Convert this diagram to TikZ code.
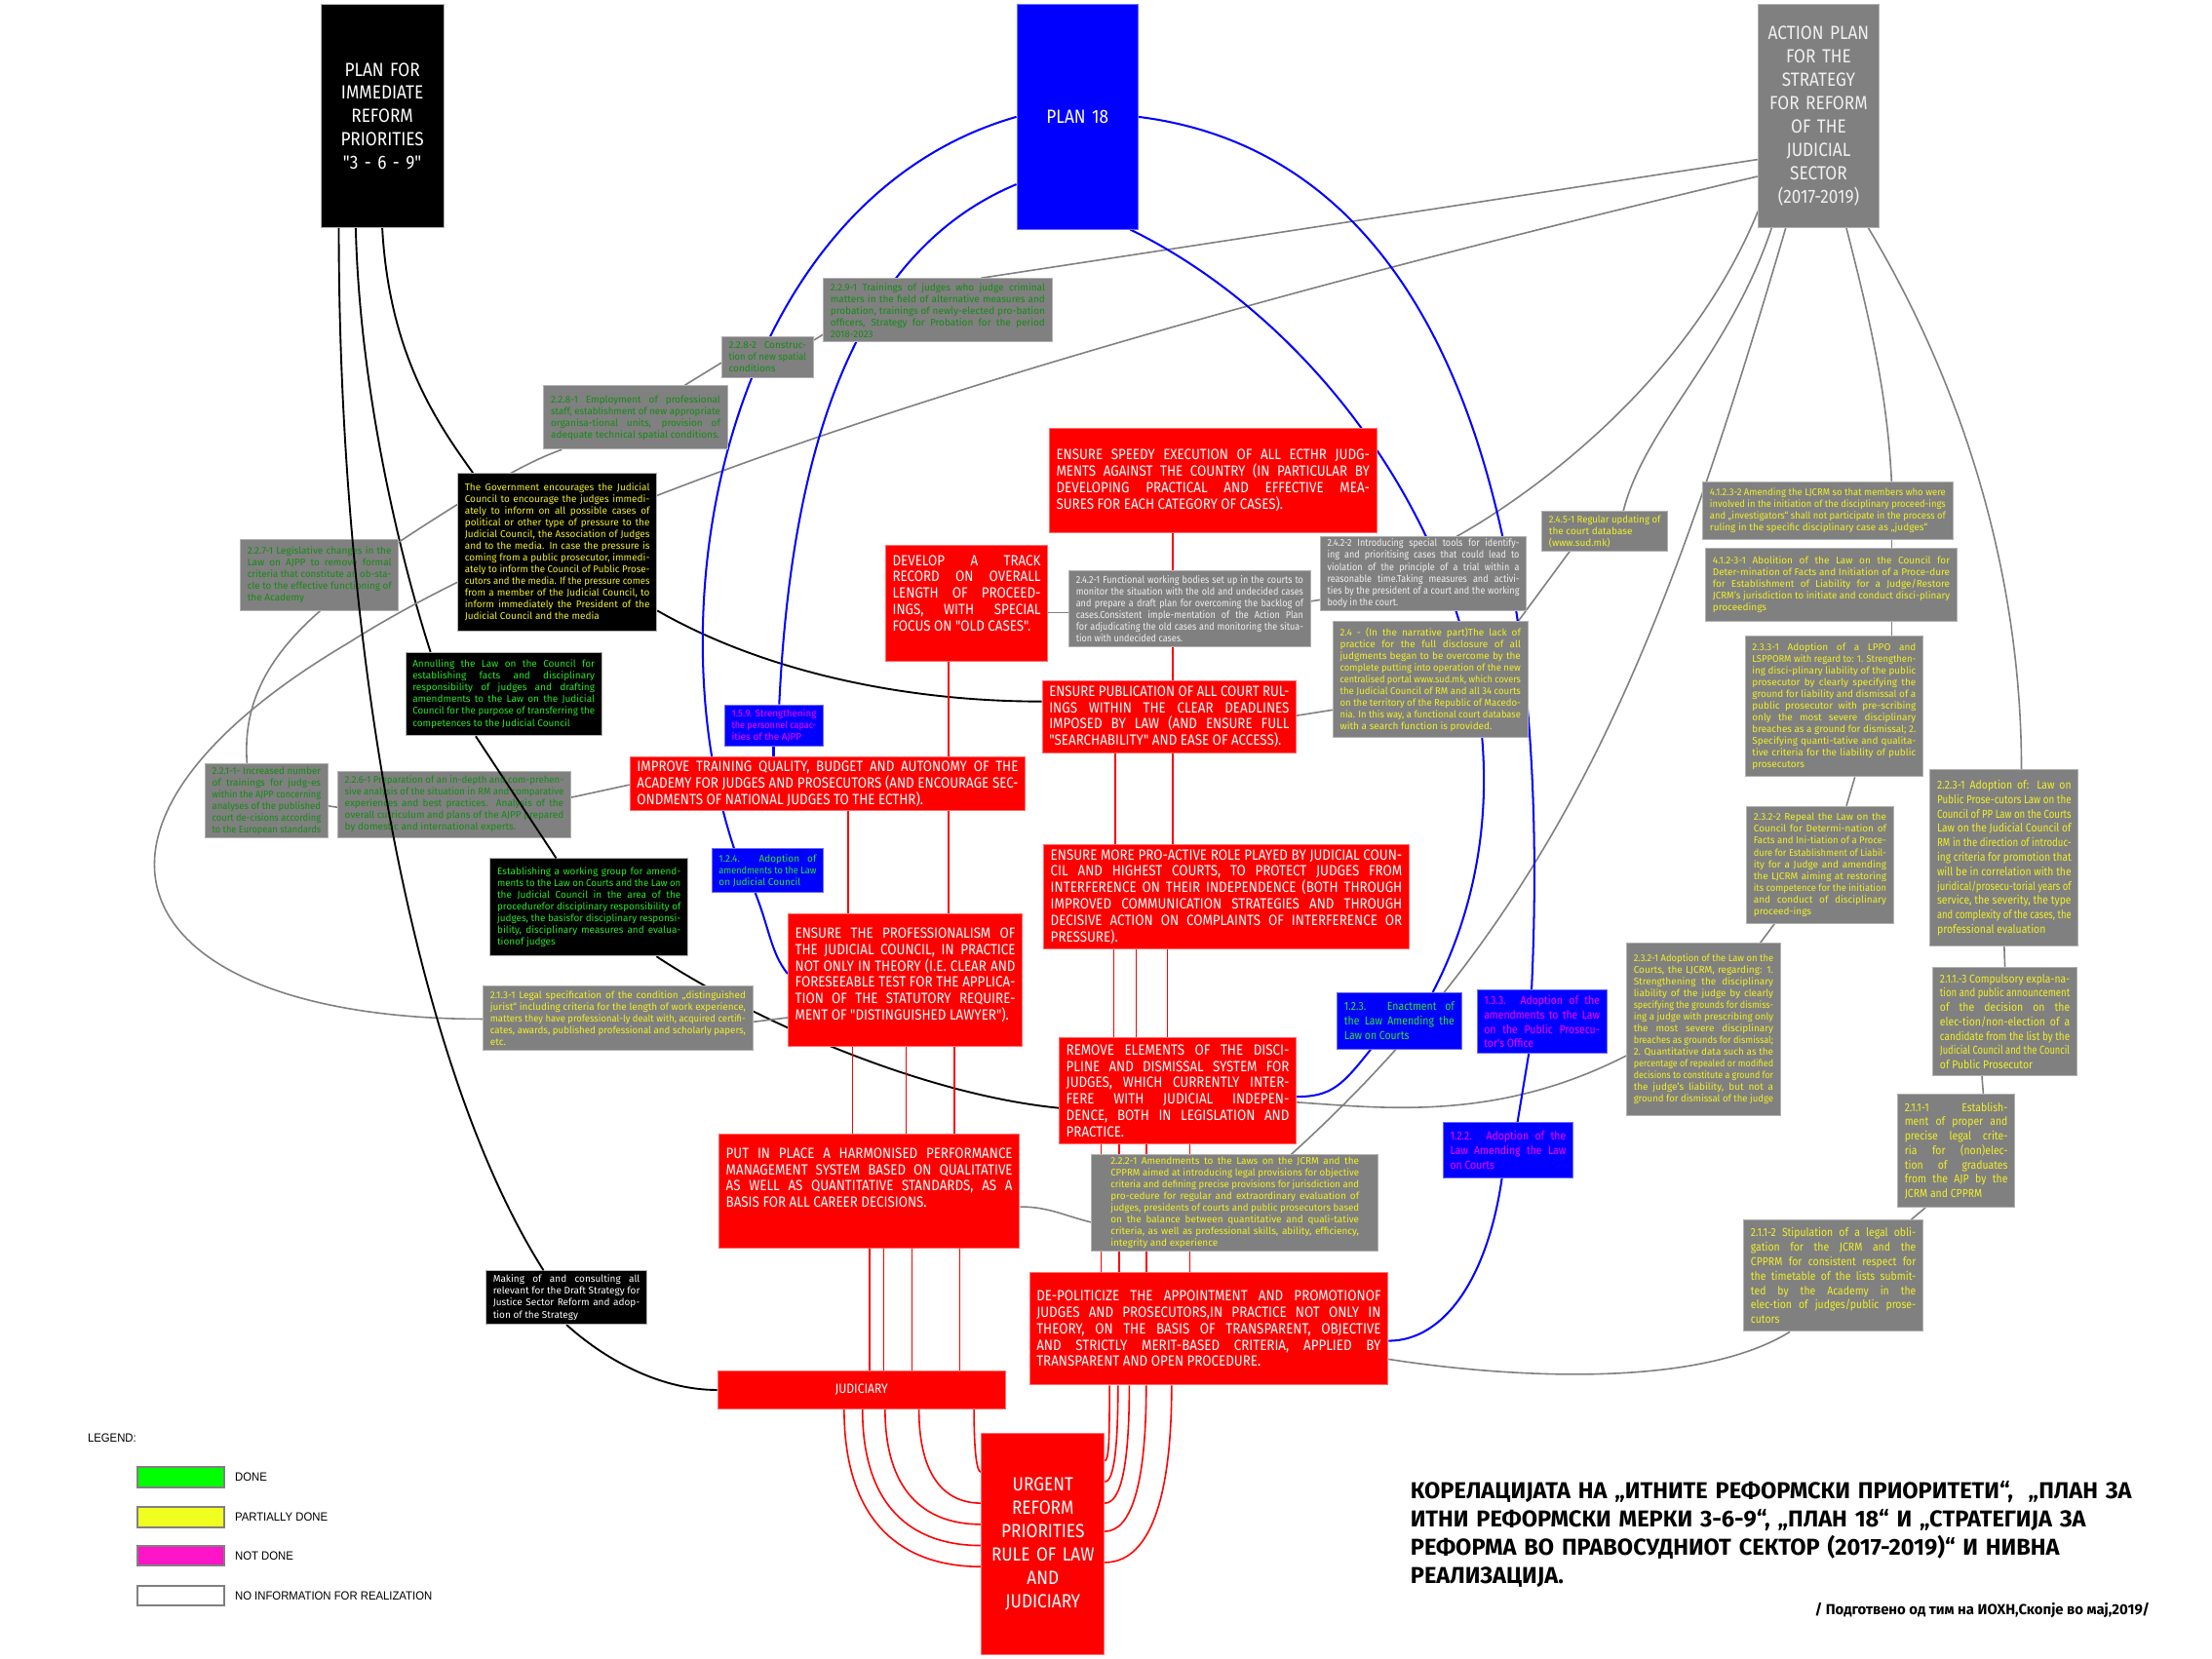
\documentclass[tikz,border=0pt]{standalone}
\usepackage{fontspec}
\usepackage{graphicx}
\setmainfont{Fira Sans}
\newfontfamily\condfont{Fira Sans}[FakeStretch=0.88]
\newfontfamily\legfont{Liberation Sans}[FakeStretch=0.92]
\usetikzlibrary{positioning,calc}
\pgfdeclarelayer{background}
\pgfsetlayers{background,main}

\definecolor{boxgray}{RGB}{128,128,128}
\definecolor{boxedge}{RGB}{178,178,178}
\definecolor{txtgreen}{RGB}{22,138,22}
\definecolor{litegreen}{RGB}{40,230,40}
\definecolor{txtyellow}{RGB}{240,240,40}
\definecolor{txtmag}{RGB}{255,0,255}
\definecolor{txtwhite}{RGB}{240,240,240}
\definecolor{planblue}{RGB}{0,0,255}
\definecolor{blueedge}{RGB}{110,110,255}
\definecolor{prred}{RGB}{255,0,0}
\definecolor{rededge}{RGB}{255,110,110}
\definecolor{linegray}{RGB}{128,128,128}
\definecolor{swgreen}{RGB}{0,255,0}
\definecolor{swyellow}{RGB}{240,255,30}
\definecolor{swmag}{RGB}{255,20,200}

\newcommand\smallfnt{\fontsize{6.9}{8.3}\selectfont}
\newcommand\smallcond{\condfont\fontsize{7.1}{8.4}\selectfont}
\newcommand\midfnt{\condfont\fontsize{8.2}{10.2}\selectfont}
\newcommand\redfnt{\condfont\fontsize{10.5}{11.6}\selectfont}
\newcommand\headfnt{\condfont\fontsize{13.5}{16.5}\selectfont}

% one justified line, one last line
\newsavebox\lnbox
\newcommand\jl[1]{\sbox\lnbox{#1}\noindent\ifdim\wd\lnbox>\linewidth\resizebox{\linewidth}{\height}{#1}\else\hbox to\linewidth{#1}\fi\par}
\newcommand\lastl[1]{\sbox\lnbox{#1}\noindent\ifdim\wd\lnbox>\linewidth\resizebox{\linewidth}{\height}{#1}\else\mbox{#1}\fi\par}
\newcommand\topbox[2]{\vbox to #1{#2\vfil}}

\tikzset{
  box/.style={anchor=north west, inner sep=0pt, align=justify, line width=0.6pt},
  sz/.code 2 args={\pgfmathsetmacro\bxw{#1-10}\edef\bxtmp{\noexpand\tikzset{minimum width=#1pt,minimum height=#2pt,text width=\bxw pt}}\bxtmp},
  gbox/.style={box, fill=boxgray, draw=boxedge, font=\smallfnt},
  kbox/.style={box, fill=black, draw=boxedge, font=\smallfnt},
  bbox/.style={box, fill=planblue, draw=blueedge, font=\smallfnt},
  rbox/.style={box, fill=prred, draw=rededge, text=white, font=\redfnt},
  hbox/.style={box, align=center, text=white, font=\headfnt},
  swatch/.style={draw=gray, line width=1.3pt, minimum width=61pt, minimum height=14pt, inner sep=0pt},
  leg/.style={font=\legfont\fontsize{8.5}{10}\selectfont, inner sep=0pt},
  blk/.style={line width=1.3pt, black},
  gry/.style={line width=1.1pt, linegray},
  blu/.style={line width=1.4pt, planblue},
  rd/.style={line width=1.1pt, prred},
}

\begin{document}
\begin{tikzpicture}[x=1pt,y=-1pt]
\useasboundingbox (0,0) rectangle (1567,1175);

% the three plans
\node[hbox, fill=black, draw=boxedge, sz={87}{158}] (p369) at (227,3) {PLAN FOR\\IMMEDIATE\\REFORM\\PRIORITIES\\"3 - 6 - 9"};
\node[hbox, fill=planblue, draw=blueedge, sz={86}{159}] (p18) at (720,3) {PLAN 18};
\node[hbox, fill=boxgray, draw=boxedge, text=txtwhite, sz={86}{158}] (ap) at (1245,3) {ACTION PLAN\\FOR THE\\STRATEGY\\FOR REFORM\\OF THE\\JUDICIAL\\SECTOR\\(2017-2019)};

% left side measures
\node[gbox, text=txtgreen, sz={162}{45}] (a2291) at (583,197) {\jl{2.2.9-1 Trainings of judges who judge criminal}\jl{matters in the field of alternative measures and}\jl{probation, trainings of newly-elected pro-bation}\jl{officers, Strategy for Probation for the period}\lastl{2018-2023}};
\node[gbox, text=txtgreen, sz={65}{29}] (a2282) at (511,238) {\jl{2.2.8-2 Construc-}\jl{tion of new spatial}\lastl{conditions}};
\node[gbox, text=txtgreen, sz={130}{45}] (a2281) at (385,273) {\jl{2.2.8-1 Employment of professional}\jl{staff, establishment of new appropriate}\jl{organisa-tional units, provision of}\lastl{adequate technical spatial conditions.}};
\node[kbox, text=txtyellow, sz={141}{112}] (gov) at (324,335) {\jl{The Government encourages the Judicial}\jl{Council to encourage the judges immedi-}\jl{ately to inform on all possible cases of}\jl{political or other type of pressure to the}\jl{Judicial Council, the Association of Judges}\jl{and to the media. In case the pressure is}\jl{coming from a public prosecutor, immedi-}\jl{ately to inform the Council of Public Prose-}\jl{cutors and the media. If the pressure comes}\jl{from a member of the Judicial Council, to}\jl{inform immediately the President of the}\lastl{Judicial Council and the media}};
\node[gbox, text=txtgreen, sz={112}{50}] (a2271) at (170,382) {\jl{2.2.7-1 Legislative changes in the}\jl{Law on AJPP to remove formal}\jl{criteria that constitute an ob-sta-}\jl{cle to the effective functioning of}\lastl{the Academy}};
\node[kbox, text=litegreen, sz={139}{59}] (annul) at (287,462) {\jl{Annulling the Law on the Council for}\jl{establishing facts and disciplinary}\jl{responsibility of judges and drafting}\jl{amendments to the Law on the Judicial}\jl{Council for the purpose of transferring the}\lastl{competences to the Judicial Council}};
\node[gbox, text=txtgreen, sz={87}{52}] (a2211) at (145,541) {\jl{2.2.1-1- Increased number}\jl{of trainings for judg-es}\jl{within the AJPP concerning}\jl{analyses of the published}\jl{court de-cisions according}\lastl{to the European standards}};
\node[gbox, text=txtgreen, sz={165}{47}] (a2261) at (239,546) {\jl{2.2.6-1 Preparation of an in-depth and com-prehen-}\jl{sive analysis of the situation in RM and comparative}\jl{experiences and best practices. Analysis of the}\jl{overall curriculum and plans of the AJPP prepared}\lastl{by domestic and international experts.}};
\node[kbox, text=litegreen, sz={140}{69}] (estab) at (347,608) {\jl{Establishing a working group for amend-}\jl{ments to the Law on Courts and the Law on}\jl{the Judicial Council in the area of the}\jl{procedurefor disciplinary responsibility of}\jl{judges, the basisfor disciplinary responsi-}\jl{bility, disciplinary measures and evalua-}\lastl{tionof judges}};
\node[gbox, text=txtyellow, sz={191}{46}] (a2131) at (342,698) {\jl{2.1.3-1 Legal specification of the condition „distinguished}\jl{jurist“ including criteria for the length of work experience,}\jl{matters they have professional-ly dealt with, acquired certifi-}\jl{cates, awards, published professional and scholarly papers,}\lastl{etc.}};
\node[kbox, text=white, sz={114}{38}] (making) at (344,900) {\jl{Making of and consulting all}\jl{relevant for the Draft Strategy for}\jl{Justice Sector Reform and adop-}\lastl{tion of the Strategy}};
\node[bbox, text=txtmag, sz={70}{29}] (n159) at (513,499) {\jl{1.5.9. Strengthening}\jl{the personnel capac-}\lastl{ities of the AJPP}};
\node[bbox, text=litegreen, sz={79}{31}] (n124) at (504,601) {\jl{1.2.4. Adoption of}\jl{amendments to the Law}\lastl{on Judicial Council}};

% priorities
\node[rbox, sz={280}{38}] (improve) at (446,536) {\jl{IMPROVE TRAINING QUALITY, BUDGET AND AUTONOMY OF THE}\jl{ACADEMY FOR JUDGES AND PROSECUTORS (AND ENCOURAGE SEC-}\lastl{ONDMENTS OF NATIONAL JUDGES TO THE ECTHR).}};
\node[rbox, sz={166}{94}] (prof) at (558,647) {\topbox{74pt}{\jl{ENSURE THE PROFESSIONALISM OF}\jl{THE JUDICIAL COUNCIL, IN PRACTICE}\jl{NOT ONLY IN THEORY (I.E. CLEAR AND}\jl{FORESEEABLE TEST FOR THE APPLICA-}\jl{TION OF THE STATUTORY REQUIRE-}\lastl{MENT OF "DISTINGUISHED LAWYER").}}};
\node[rbox, sz={213}{81}] (put) at (509,803) {\topbox{61pt}{\jl{PUT IN PLACE A HARMONISED PERFORMANCE}\jl{MANAGEMENT SYSTEM BASED ON QUALITATIVE}\jl{AS WELL AS QUANTITATIVE STANDARDS, AS A}\lastl{BASIS FOR ALL CAREER DECISIONS.}}};
\node[hbox, fill=prred, draw=rededge, font=\condfont\fontsize{9.5}{11}\selectfont, sz={204}{27}] (jud) at (508,971) {JUDICIARY};
\node[hbox, fill=prred, draw=rededge, sz={87}{157}] (urgent) at (695,1015) {URGENT\\REFORM\\PRIORITIES\\RULE OF LAW\\AND\\JUDICIARY};
\node[rbox, sz={254}{80}] (depol) at (729,901) {\jl{DE-POLITICIZE THE APPOINTMENT AND PROMOTIONOF}\jl{JUDGES AND PROSECUTORS,IN PRACTICE NOT ONLY IN}\jl{THEORY, ON THE BASIS OF TRANSPARENT, OBJECTIVE}\jl{AND STRICTLY MERIT-BASED CRITERIA, APPLIED BY}\lastl{TRANSPARENT AND OPEN PROCEDURE.}};
\node[gbox, text=txtyellow, sz={203}{68}, text width=176pt] (a2221) at (773,818) {\jl{2.2.2-1 Amendments to the Laws on the JCRM and the}\jl{CPPRM aimed at introducing legal provisions for objective}\jl{criteria and defining precise provisions for jurisdiction and}\jl{pro-cedure for regular and extraordinary evaluation of}\jl{judges, presidents of courts and public prosecutors based}\jl{on the balance between quantitative and quali-tative}\jl{criteria, as well as professional skills, ability, efficiency,}\lastl{integrity and experience}};
\node[rbox, sz={168}{75}] (remove) at (750,735) {\jl{REMOVE ELEMENTS OF THE DISCI-}\jl{PLINE AND DISMISSAL SYSTEM FOR}\jl{JUDGES, WHICH CURRENTLY INTER-}\jl{FERE WITH JUDICIAL INDEPEN-}\jl{DENCE, BOTH IN LEGISLATION AND}\lastl{PRACTICE.}};
\node[rbox, sz={259}{74}] (proact) at (739,598) {\jl{ENSURE MORE PRO-ACTIVE ROLE PLAYED BY JUDICIAL COUN-}\jl{CIL AND HIGHEST COURTS, TO PROTECT JUDGES FROM}\jl{INTERFERENCE ON THEIR INDEPENDENCE (BOTH THROUGH}\jl{IMPROVED COMMUNICATION STRATEGIES AND THROUGH}\jl{DECISIVE ACTION ON COMPLAINTS OF INTERFERENCE OR}\lastl{PRESSURE).}};
\node[rbox, sz={180}{51}] (pub) at (738,482) {\jl{ENSURE PUBLICATION OF ALL COURT RUL-}\jl{INGS WITHIN THE CLEAR DEADLINES}\jl{IMPOSED BY LAW (AND ENSURE FULL}\lastl{"SEARCHABILITY" AND EASE OF ACCESS).}};
\node[rbox, sz={115}{82}] (develop) at (627,386) {\topbox{68pt}{\jl{DEVELOP A TRACK}\jl{RECORD ON OVERALL}\jl{LENGTH OF PROCEED-}\jl{INGS, WITH SPECIAL}\lastl{FOCUS ON "OLD CASES".}}};
\node[rbox, sz={232}{74}] (speedy) at (743,303) {\jl{ENSURE SPEEDY EXECUTION OF ALL ECTHR JUDG-}\jl{MENTS AGAINST THE COUNTRY (IN PARTICULAR BY}\jl{DEVELOPING PRACTICAL AND EFFECTIVE MEA-}\lastl{SURES FOR EACH CATEGORY OF CASES).}};

% middle measures
\node[gbox, text=txtwhite, font=\smallcond, sz={171}{54}] (a2421) at (757,404) {\jl{2.4.2-1 Functional working bodies set up in the courts to}\jl{monitor the situation with the old and undecided cases}\jl{and prepare a draft plan for overcoming the backlog of}\jl{cases.Consistent imple-mentation of the Action Plan}\jl{for adjudicating the old cases and monitoring the situa-}\lastl{tion with undecided cases.}};
\node[gbox, text=txtwhite, font=\smallcond, sz={146}{52}] (a2422) at (935,380) {\jl{2.4.2-2 Introducing special tools for identify-}\jl{ing and prioritising cases that could lead to}\jl{violation of the principle of a trial within a}\jl{reasonable time.Taking measures and activi-}\jl{ties by the president of a court and the working}\lastl{body in the court.}};
\node[gbox, text=txtyellow, sz={89}{28}] (a2451) at (1092,362) {\jl{2.4.5-1 Regular updating of}\lastl{the court database}\lastl{(www.sud.mk)}};
\node[gbox, text=txtyellow, sz={138}{82}] (a24) at (944,440) {\jl{2.4 - (In the narrative part)The lack of}\jl{practice for the full disclosure of all}\jl{judgments began to be overcome by the}\jl{complete putting into operation of the new}\jl{centralised portal www.sud.mk, which covers}\jl{the Judicial Council of RM and all 34 courts}\jl{on the territory of the Republic of Macedo-}\jl{nia. In this way, a functional court database}\lastl{with a search function is provided.}};
\node[bbox, text=litegreen, font=\midfnt, sz={88}{40}] (n123) at (947,703) {\jl{1.2.3. Enactment of}\jl{the Law Amending the}\lastl{Law on Courts}};
\node[bbox, text=txtmag, font=\midfnt, sz={92}{45}] (n133) at (1046,701) {\jl{1.3.3. Adoption of the}\jl{amendments to the Law}\jl{on the Public Prosecu-}\lastl{tor's Office}};
\node[bbox, text=txtmag, font=\midfnt, sz={92}{39}] (n122) at (1022,795) {\jl{1.2.2. Adoption of the}\jl{Law Amending the Law}\lastl{on Courts}};

% right side measures
\node[gbox, text=txtyellow, sz={177}{41}] (a41232) at (1206,341) {\jl{4.1.2.3-2 Amending the LJCRM so that members who were}\jl{involved in the initiation of the disciplinary proceed-ings}\jl{and „investigators“ shall not participate in the process of}\lastl{ruling in the specific disciplinary case as „judges“}};
\node[gbox, text=txtyellow, sz={178}{52}] (a41231) at (1208,388) {\jl{4.1.2-3-1 Abolition of the Law on the Council for}\jl{Deter-mination of Facts and Initiation of a Proce-dure}\jl{for Establishment of Liability for a Judge/Restore}\jl{JCRM's jurisdiction to initiate and conduct disci-plinary}\lastl{proceedings}};
\node[gbox, text=txtyellow, sz={126}{100}] (a2331) at (1236,450) {\jl{2.3.3-1 Adoption of a LPPO and}\jl{LSPPORM with regard to: 1. Strengthen-}\jl{ing disci-plinary liability of the public}\jl{prosecutor by clearly specifying the}\jl{ground for liability and dismissal of a}\jl{public prosecutor with pre-scribing}\jl{only the most severe disciplinary}\jl{breaches as a ground for dismissal; 2.}\jl{Specifying quanti-tative and qualita-}\jl{tive criteria for the liability of public}\lastl{prosecutors}};
\node[gbox, text=txtyellow, sz={104}{83}] (a2322) at (1237,571) {\jl{2.3.2-2 Repeal the Law on the}\jl{Council for Determi-nation of}\jl{Facts and Ini-tiation of a Proce-}\jl{dure for Establishment of Liabil-}\jl{ity for a Judge and amending}\jl{the LJCRM aiming at restoring}\jl{its competence for the initiation}\jl{and conduct of disciplinary}\lastl{proceed-ings}};
\node[gbox, text=txtyellow, sz={109}{122}] (a2321) at (1152,668) {\jl{2.3.2-1 Adoption of the Law on the}\jl{Courts, the LJCRM, regarding: 1.}\jl{Strengthening the disciplinary}\jl{liability of the judge by clearly}\jl{specifying the grounds for dismiss-}\jl{ing a judge with prescribing only}\jl{the most severe disciplinary}\jl{breaches as grounds for dismissal;}\jl{2. Quantitative data such as the}\jl{percentage of repealed or modified}\jl{decisions to constitute a ground for}\jl{the judge's liability, but not a}\lastl{ground for dismissal of the judge}};
\node[gbox, text=txtyellow, font=\midfnt, sz={105}{125}] (a2231) at (1367,545) {\jl{2.2.3-1 Adoption of: Law on}\jl{Public Prose-cutors Law on the}\jl{Council of PP Law on the Courts}\jl{Law on the Judicial Council of}\jl{RM in the direction of introduc-}\jl{ing criteria for promotion that}\jl{will be in correlation with the}\jl{juridical/prosecu-torial years of}\jl{service, the severity, the type}\jl{and complexity of the cases, the}\lastl{professional evaluation}};
\node[gbox, text=txtyellow, font=\midfnt, sz={102}{77}] (a2113) at (1369,685) {\jl{2.1.1.-3 Compulsory expla-na-}\jl{tion and public announcement}\jl{of the decision on the}\jl{elec-tion/non-election of a}\jl{candidate from the list by the}\jl{Judicial Council and the Council}\lastl{of Public Prosecutor}};
\node[gbox, text=txtyellow, font=\midfnt, sz={83}{80}] (a2111) at (1344,775) {\jl{2.1.1-1 Establish-}\jl{ment of proper and}\jl{precise legal crite-}\jl{ria for (non)elec-}\jl{tion of graduates}\jl{from the AJP by the}\lastl{JCRM and CPPRM}};
\node[gbox, text=txtyellow, font=\midfnt, sz={127}{79}] (a2112) at (1235,864) {\jl{2.1.1-2 Stipulation of a legal obli-}\jl{gation for the JCRM and the}\jl{CPPRM for consistent respect for}\jl{the timetable of the lists submit-}\jl{ted by the Academy in the}\jl{elec-tion of judges/public prose-}\lastl{cutors}};

% legend
\node[leg, anchor=west] (legend) at (62,1019) {LEGEND:};
\node[swatch, fill=swgreen, anchor=north west] (swdone) at (97,1039) {};
\node[swatch, fill=swyellow, below=13pt of swdone] (swpart) {};
\node[swatch, fill=swmag, below=12pt of swpart] (swnot) {};
\node[swatch, fill=white, below=13pt of swnot] (swnone) {};
\node[leg, right=7pt of swdone] (lbldone) {DONE};
\node[leg, right=7pt of swpart] (lblpart) {PARTIALLY DONE};
\node[leg, right=7pt of swnot] (lblnot) {NOT DONE};
\node[leg, right=7pt of swnone] (lblnone) {NO INFORMATION FOR REALIZATION};

% title
\node[anchor=north west, inner sep=0pt, text width=545pt, align=left, font=\bfseries\fontsize{16.3}{20}\selectfont] (title) at (999,1049) {КОРЕЛАЦИЈАТА НА „ИТНИТЕ РЕФОРМСКИ ПРИОРИТЕТИ“,\ \ „ПЛАН ЗА\\ИТНИ РЕФОРМСКИ МЕРКИ 3-6-9“, „ПЛАН 18“ И „СТРАТЕГИЈА ЗА\\РЕФОРМА ВО ПРАВОСУДНИОТ СЕКТОР (2017-2019)“ И НИВНА\\РЕАЛИЗАЦИЈА.};
\node[anchor=base east, inner sep=0pt, font=\bfseries\fontsize{10.3}{12}\selectfont] (credit) at (1523,1144) {/ Подготвено од тим на ИОХН,Скопје во мај,2019/};

\begin{pgfonlayer}{background}
\fill[white] (0,0) rectangle (1567,1175);
% black links
\draw[blk] (p369.south) .. controls +(5,90) and +(-25,-35) .. ($(gov.north west)+(11,0)$);
\draw[blk] ($(p369.south west)+(25,0)$) .. controls +(3,119) and +(-20,-62) .. ($(annul.north west)+(18,0)$);
\draw[blk] (making.south) .. controls +(30,27) and +(-38,0) .. (jud.west);
\draw[blk] ($(estab.south west)+(118,0)$) .. controls +(65,43) and +(-100,-10) .. ($(remove.north west)+(0,50)$);
\draw[blk] ($(gov.south east)+(0,-15)$) .. controls +(75,43) and +(-98,0) .. ($(pub.north west)+(0,15)$);
% gray links
\draw[gry] ($(ap.north west)+(0,110)$) -- ($(a2291.north west)+(112,0)$);
\draw[gry] ($(ap.north west)+(0,122)$) .. controls (800,230) and (420,345) .. (246,456) .. controls (20,590) and (90,722) .. ($(a2131.north west)+(0,24)$);
\draw[gry] ($(a2281.south west)+(13,0)$) .. controls +(-30,10) and +(35,-23) .. ($(a2271.north east)+(0,2)$);
\draw[gry] ($(a2281.north west)+(100,0)$) -- ($(a2282.north west)+(0,19)$);
\draw[gry] ($(a2282.north east)+(0,3)$) -- ($(a2291.north west)+(0,40)$);
\draw[gry] ($(a2271.south west)+(57,0)$) .. controls +(-40,35) and +(-3,-40) .. ($(a2211.north west)+(30,0)$);
\draw[gry] ($(a2211.north east)+(0,30)$) -- ($(a2261.north west)+(0,26)$);
\draw[gry] ($(a2261.north east)+(0,19)$) -- ($(improve.north west)+(0,20)$);
\draw[gry] ($(a2131.north east)+(0,26)$) -- ($(prof.north west)+(0,74)$);
\draw[gry] ($(ap.north west)+(3,140)$) .. controls +(-50,130) and +(45,-25) .. ($(a2422.north west)+(97,0)$);
\draw[gry] ($(ap.south west)+(10,0)$) .. controls +(-30,90) and +(15,-60) .. ($(a2451.north west)+(58,0)$);
\draw[gry] ($(a2451.south west)+(20,0)$) -- ($(a24.north east)+(-7,0)$);
\draw[gry] ($(ap.south west)+(20,0)$) .. controls +(-85,289) and +(196,-178) .. ($(a2221.north east)+(-62,0)$);
\draw[gry] ($(ap.south west)+(63,0)$) .. controls +(18,70) and +(-3,-60) .. ($(a41232.north west)+(134,0)$);
\draw[gry] ($(a41232.south west)+(134,0)$) -- ($(a41231.north west)+(132,0)$);
\draw[gry] ($(a41231.south west)+(132,0)$) -- ($(a2331.north west)+(104,0)$);
\draw[gry] ($(a2331.south west)+(78,0)$) -- ($(a2322.north west)+(71,0)$);
\draw[gry] ($(a2322.south west)+(20,0)$) -- ($(a2321.north west)+(95,0)$);
\draw[gry] ($(a2321.north west)+(0,80)$) .. controls +(-92,47) and +(62,4) .. ($(remove.north east)+(0,46)$);
\draw[gry] ($(ap.south east)+(-8,0)$) .. controls +(60,100) and +(0,-150) .. ($(a2231.north west)+(65,0)$);
\draw[gry] (a2231.south) -- (a2113.north);
\draw[gry] ($(a2113.south west)+(35,0)$) -- ($(a2111.north west)+(61,0)$);
\draw[gry] ($(a2111.south west)+(20,0)$) -- ($(a2112.north west)+(119,0)$);
\draw[gry] ($(a2112.south west)+(33,0)$) .. controls +(-68,42) and +(77,12) .. ($(depol.north east)+(0,62)$);
\draw[gry] ($(a24.north west)+(0,63)$) -- ($(pub.north east)+(0,25)$);
\draw[gry] ($(a2422.north west)+(0,45)$) -- ($(a2421.north east)+(0,22)$);
\draw[gry] ($(a2421.north west)+(0,30)$) -- ($(develop.north east)+(0,48)$);
\draw[gry] ($(a2221.north west)+(0,48)$) .. controls +(-20,-5) and +(20,0) .. ($(put.north east)+(0,52)$);
% blue links
\draw[blu] (p18.west) .. controls (520,140) and (460,420) .. ($(n124.north west)+(16,0)$);
\draw[blu] ($(n124.south west)+(31,0)$) .. controls +(10,25) and +(-12,-15) .. ($(prof.north west)+(0,43)$);
\draw[blu] ($(p18.south west)+(0,-32)$) .. controls +(-120,50) and +(8,-169) .. ($(n159.north west)+(39,0)$);
\draw[blu] ($(n159.south west)+(35,0)$) -- ($(improve.north west)+(102,0)$);
\draw[blu] ($(p18.south east)+(-6,0)$) .. controls +(180,88) and +(105,-203) .. ($(n123.north west)+(68,0)$);
\draw[blu] (p18.east) .. controls +(224,28) and +(15,-321) .. ($(n133.north west)+(39,0)$);
\draw[blu] ($(n133.south west)+(37,0)$) -- ($(n122.north west)+(53,0)$);
\draw[blu] ($(n122.south west)+(42,0)$) .. controls +(-10,70) and +(40,0) .. ($(depol.north east)+(0,49)$);
\draw[blu] ($(n123.south west)+(24,0)$) .. controls +(-20,25) and +(25,0) .. ($(remove.north east)+(0,42)$);
% red links
\draw[rd] ($(speedy.south west)+(88,0)$) -- ($(pub.north west)+(93,0)$);
\foreach \a/\b in {52/51,93/92}
  \draw[rd] ($(pub.south west)+(\a,0)$) -- ($(proact.north west)+(\b,0)$);
\foreach \a/\b in {50/39,66/55,88/77}
  \draw[rd] ($(proact.south west)+(\a,0)$) -- ($(remove.north west)+(\b,0)$);
\foreach \a/\b in {30/51,43/64,62/83,93/114}
  \draw[rd] ($(remove.south west)+(\a,0)$) -- ($(depol.north west)+(\b,0)$);
\foreach \a/\b/\c/\d in {57/20/38/3,63/35/48/6,71/50/59/11,83/70/73/18,101/92/88/29}
  \draw[rd] ($(depol.south west)+(\a,0)$) .. controls +(0,\c) and +(\d,0) .. ($(urgent.north east)+(0,\b)$);
\draw[rd] ($(develop.south west)+(45,0)$) -- ($(improve.north west)+(226,0)$);
\foreach \a/\b in {155/43,226/114}
  \draw[rd] ($(improve.south west)+(\a,0)$) -- ($(prof.north west)+(\b,0)$);
\foreach \a/\b in {46/95,84/133,118/167}
  \draw[rd] ($(prof.south west)+(\a,0)$) -- ($(put.north west)+(\b,0)$);
\foreach \a/\b in {107/108,117/118,137/138,171/172}
  \draw[rd] ($(put.south west)+(\a,0)$) -- ($(jud.north west)+(\b,0)$);
\foreach \a/\b/\c/\d in {90/95/78/58,103/80/68/50,119/65/57/41,143/50/47/26,182/28/31/3}
  \draw[rd] ($(jud.south west)+(\a,0)$) .. controls +(0,\c) and +(-\d,0) .. ($(urgent.north west)+(0,\b)$);
\end{pgfonlayer}

% black links drawn over the boxes
\draw[blk] ($(p369.south west)+(13,0)$) .. controls +(0,289) and +(-95,-150) .. ($(making.north west)+(41,0)$);
\draw[blk] ($(annul.south west)+(50,0)$) -- ($(estab.north west)+(47,0)$);
\end{tikzpicture}
\end{document}
